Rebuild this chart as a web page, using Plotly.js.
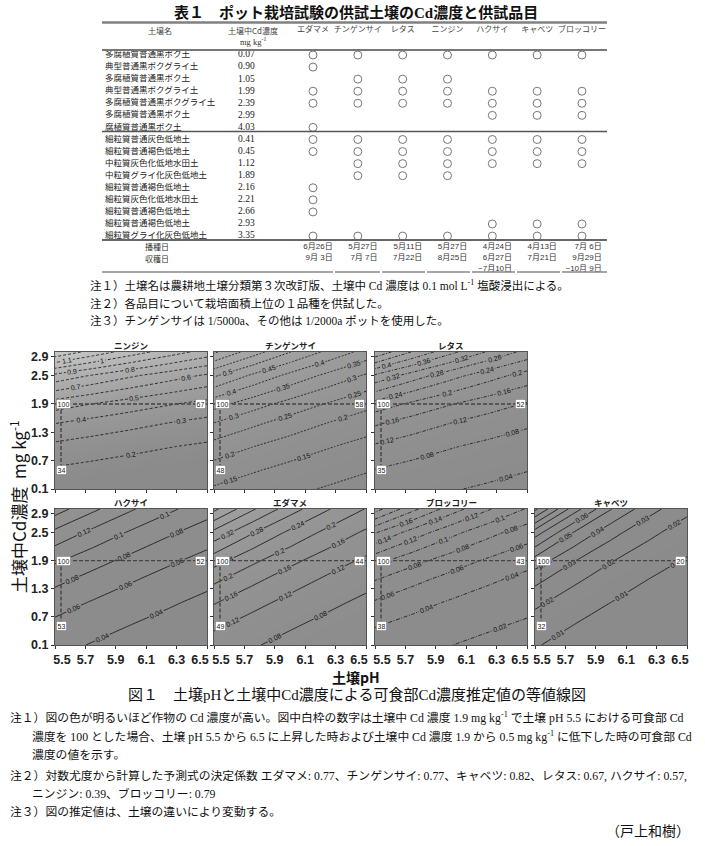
<!DOCTYPE html>
<html>
<head>
<meta charset="utf-8">
<script src="https://cdn.plot.ly/plotly-3.0.1.min.js"></script>
<style>html,body{margin:0;padding:0;background:#fff}#chart{width:705px;height:846px}</style>
</head>
<body>
<div id="chart"></div>
<script>
// ================= DATA =================
// --- Table 1 ---
const crops = ['エダマメ','チンゲンサイ','レタス','ニンジン','ハクサイ','キャベツ','ブロッコリー'];
const soilNames = ['多腐植質普通黒ボク土','典型普通黒ボクグライ土','多腐植質普通黒ボク土','典型普通黒ボクグライ土','多腐植質普通黒ボクグライ土','多腐植質普通黒ボク土','腐植質普通黒ボク土','細粒質普通灰色低地土','細粒質普通褐色低地土','中粒質灰色化低地水田土','中粒質グライ化灰色低地土','細粒質普通褐色低地土','細粒質灰色化低地水田土','細粒質普通褐色低地土','細粒質普通褐色低地土','細粒質グライ化灰色低地土'];
const soilCdValues = ['0.07','0.90','1.05','1.99','2.39','2.99','4.03','0.41','0.45','1.12','1.89','2.16','2.21','2.66','2.93','3.35'];
// 1 = tested (○), columns follow `crops`
const tested = [
  [1,1,1,1,1,1,1],
  [1,0,0,0,0,0,0],
  [0,1,1,1,0,0,0],
  [1,1,1,1,1,1,1],
  [1,1,1,1,1,1,1],
  [0,0,0,0,1,1,1],
  [1,0,0,0,0,0,0],
  [1,1,1,1,1,1,1],
  [1,1,1,1,1,1,1],
  [0,1,1,1,1,1,1],
  [0,1,1,1,0,0,0],
  [1,0,0,0,0,0,0],
  [1,0,0,0,0,0,0],
  [1,0,0,0,0,0,0],
  [0,0,0,0,1,1,1],
  [1,1,1,1,1,1,1]
];
const sowDates = ['6月26日','5月27日','5月11日','5月27日','4月24日','4月13日','7月 6日'];
const harvestDates = ['9月 3日','7月 7日','7月22日','8月25日','6月27日','7月21日','9月29日'];
const harvestEnd = ['','','','','~7月10日','','~10月 9日'];

// --- Figure 1: estimated edible-part Cd (read from the contour maps) ---
const soilPH = [5.5, 5.75, 6.0, 6.25, 6.5];
const soilCd = [0.1, 0.5, 1.0, 1.5, 1.9, 2.5, 3.0];
const zNinjin = [
  [0.1375,0.1244,0.1126,0.1018,0.0921],
  [0.1870,0.1692,0.1531,0.1385,0.1253],
  [0.2750,0.2488,0.2251,0.2036,0.1843],
  [0.4043,0.3658,0.3310,0.2994,0.2709],
  [0.5500,0.4976,0.4502,0.4073,0.3685],
  [0.8729,0.7897,0.7146,0.6464,0.5848],
  [1.2832,1.1609,1.0504,0.9502,0.8597]];
const zChingensai = [
  [0.1441,0.1258,0.1097,0.0958,0.0836],
  [0.1777,0.1551,0.1353,0.1181,0.1031],
  [0.2309,0.2015,0.1759,0.1535,0.1339],
  [0.3000,0.2618,0.2285,0.1994,0.1740],
  [0.3700,0.3229,0.2818,0.2459,0.2146],
  [0.5067,0.4422,0.3859,0.3368,0.2939],
  [0.6585,0.5747,0.5015,0.4377,0.3819]];
const zLettuce = [
  [0.0583,0.0495,0.0421,0.0357,0.0303],
  [0.0787,0.0669,0.0568,0.0482,0.0409],
  [0.1146,0.0973,0.0826,0.0702,0.0596],
  [0.1667,0.1415,0.1202,0.1021,0.0867],
  [0.2250,0.1911,0.1622,0.1378,0.1170],
  [0.3529,0.2997,0.2545,0.2161,0.1835],
  [0.5134,0.4360,0.3702,0.3144,0.2670]];
const zHakusai = [
  [0.0456,0.0387,0.0329,0.0279,0.0237],
  [0.0546,0.0464,0.0394,0.0335,0.0284],
  [0.0685,0.0582,0.0494,0.0420,0.0356],
  [0.0859,0.0730,0.0620,0.0526,0.0447],
  [0.1030,0.0875,0.0743,0.0631,0.0536],
  [0.1352,0.1148,0.0975,0.0828,0.0703],
  [0.1695,0.1440,0.1223,0.1038,0.0882]];
const zEdamame = [
  [0.1028,0.0837,0.0682,0.0555,0.0452],
  [0.1260,0.1026,0.0836,0.0681,0.0554],
  [0.1626,0.1324,0.1079,0.0878,0.0715],
  [0.2097,0.1708,0.1391,0.1133,0.0923],
  [0.2570,0.2093,0.1705,0.1388,0.1131],
  [0.3488,0.2841,0.2314,0.1884,0.1535],
  [0.4499,0.3664,0.2984,0.2430,0.1980]];
const zBroccoli = [
  [0.0309,0.0250,0.0202,0.0164,0.0133],
  [0.0407,0.0329,0.0267,0.0216,0.0175],
  [0.0575,0.0465,0.0377,0.0305,0.0247],
  [0.0812,0.0657,0.0532,0.0431,0.0349],
  [0.1070,0.0866,0.0702,0.0568,0.0460],
  [0.1620,0.1312,0.1062,0.0860,0.0697],
  [0.2288,0.1853,0.1500,0.1215,0.0984]];
const zCabbage = [
  [0.0106,0.0071,0.0048,0.0032,0.0021],
  [0.0147,0.0098,0.0066,0.0044,0.0029],
  [0.0221,0.0148,0.0099,0.0066,0.0044],
  [0.0332,0.0222,0.0149,0.0099,0.0066],
  [0.0460,0.0308,0.0206,0.0138,0.0092],
  [0.0750,0.0501,0.0335,0.0224,0.0150],
  [0.1126,0.0753,0.0504,0.0337,0.0225]];

const panelNames = ['ニンジン','チンゲンサイ','レタス','ハクサイ','エダマメ','ブロッコリー','キャベツ'];
const panelZ = [zNinjin, zChingensai, zLettuce, zHakusai, zEdamame, zBroccoli, zCabbage];
const contourStart = [0.2, 0.1, 0.04, 0.04, 0.04, 0.02, 0.01];
const contourStep  = [0.1, 0.05, 0.04, 0.02, 0.04, 0.02, 0.01];
const ratioHighPH = [67, 58, 52, 52, 44, 43, 20];   // value at pH 6.5 (Cd 1.9)
const ratioLowCd  = [34, 48, 35, 53, 49, 38, 32];   // value at Cd 0.5 (pH 5.5)
const basePH = 5.5, highPH = 6.5, baseCd = 1.9, lowCd = 0.5;
const xTicks = [5.5, 5.7, 5.9, 6.1, 6.3, 6.5];
const xTickText = ['5.5', '5.7', '5.9', '6.1', '6.3', '6.5'];
const yTicks = [0.1, 0.7, 1.3, 1.9, 2.5, 2.9];

// ================= LAYOUT HELPERS =================
const W = 705, H = 846;
const JP = "'Noto Sans CJK JP', sans-serif";
const MIX = "'Liberation Serif', 'Noto Sans CJK JP', serif";
const NUM = "'Liberation Sans Narrow', 'Liberation Sans', sans-serif";
const colPx = [[55,207],[214,366],[375,527],[535,687]];
const rowPx = [[352,489],[509,645]];
const place = [[0,0],[0,1],[0,2],[1,0],[1,1],[1,2],[1,3]];
const lineDash = ['3px,2px','2px,1.5px','3px,1.5px,1px,1.5px','solid','solid','4px,1.5px,1px,1.5px','solid'];
const fx = p => p / W, fy = p => 1 - p / H;
const FS = '\u2007';   // figure space: nudges the end labels inwards like the original

function pa(px, py, text, font, xanchor, extra) {
  return Object.assign({xref:'paper', yref:'paper', x:fx(px), y:fy(py), text:text,
    showarrow:false, xanchor:xanchor || 'center', yanchor:'middle', font:font}, extra || {});
}
function hRule(x0, x1, y, w, c) {
  return {type:'line', xref:'paper', yref:'paper', x0:fx(x0), x1:fx(x1), y0:fy(y), y1:fy(y),
          line:{width:w, color:c}};
}

const traces = [];
const layout = {
  width: W, height: H, margin:{l:0,r:0,t:0,b:0}, autosize:false,
  paper_bgcolor:'#fff', plot_bgcolor:'rgba(0,0,0,0)', showlegend:false, hovermode:false,
  annotations: [], shapes: []
};

// ================= CONTOUR PANELS =================
panelNames.forEach((name, i) => {
  const k = i + 1, sfx = k === 1 ? '' : String(k);
  const xa = 'x' + sfx, ya = 'y' + sfx;
  const [r, c] = place[i];
  const [x0, x1] = colPx[c], [y0, y1] = rowPx[r];
  traces.push({
    type:'contour', x: soilPH, y: soilCd, z: panelZ[i], xaxis: xa, yaxis: ya,
    colorscale: [[0,'#8b8b8b'],[1,'#f0f0f0']], showscale:false, hoverinfo:'skip',
    contours: {coloring:'heatmap', start: contourStart[i], end: 2, size: contourStep[i],
      showlabels:true, labelfont:{size:7, color:'#111', family:"'Liberation Sans', sans-serif"}},
    line: {color:'#111', width:0.8, dash: lineDash[i], smoothing:0}
  });
  // reference guide (pH 5.5 -> 6.5 at Cd 1.9)
  traces.push({type:'scatter', mode:'lines', x:[basePH, highPH], y:[baseCd, baseCd],
    xaxis: xa, yaxis: ya, line:{color:'#444', width:1.4, dash:'4px,2px'}, hoverinfo:'skip', cliponaxis:true});
  layout.shapes.push({type:'line', xref: xa, yref: ya, xsizemode:'pixel', xanchor: basePH,
    x0: 6, x1: 6, y0: baseCd, y1: lowCd, line:{color:'#444', width:1.4, dash:'4px,2px'}});
  const box = {xref: xa, yref: ya, showarrow:false, bgcolor:'#fff', bordercolor:'#777',
    borderwidth:0.6, borderpad:1, font:{size:7, color:'#222', family:"'Liberation Sans', sans-serif"}, yanchor:'middle'};
  layout.annotations.push(Object.assign({}, box, {x: basePH, y: baseCd, text: '100', xanchor:'left', xshift:1}));
  layout.annotations.push(Object.assign({}, box, {x: highPH, y: baseCd, text: String(ratioHighPH[i]), xanchor:'right', xshift:-1}));
  layout.annotations.push(Object.assign({}, box, {x: basePH, y: lowCd, text: String(ratioLowCd[i]), xanchor:'left', xshift:1}));
  // panel title
  layout.annotations.push(pa((x0 + x1) / 2, y0 - 7, name, {size:8.5, color:'#222', family:JP, weight:'bold'}));
  const tickfont = {size:12.5, color:'#222', family:NUM, weight:'bold'};
  const tt = xTickText.map((t, j) => j === 0 ? FS + FS + t : (j === xTickText.length - 1 ? t + FS + FS : t));
  layout['xaxis' + sfx] = {domain:[fx(x0), fx(x1)], range:[basePH, highPH], anchor: ya,
    tickvals: xTicks, ticktext: tt, ticks:'outside', ticklen:3, tickcolor:'#333', showline:true, mirror:true,
    linecolor:'#555', linewidth:1, showgrid:false, zeroline:false, showticklabels: r === 1,
    tickfont: tickfont, fixedrange:true};
  layout['yaxis' + sfx] = {domain:[fy(y1), fy(y0)], range:[0.1, 3.0], anchor: xa,
    tickvals: yTicks, ticks:'outside', ticklen:3, tickcolor:'#333', showline:true, mirror:true,
    linecolor:'#555', linewidth:1, showgrid:false, zeroline:false, showticklabels: c === 0,
    tickfont: tickfont, fixedrange:true};
});

// ================= TABLE (own invisible axes) =================
// crop column j sits at 313 + 44.83*j px ; table row i at 55 + 12.07*i px
const colUnit = 44.83, col0 = 313, rowUnit = 12.07, row0 = 55;
layout.xaxis8 = {domain:[0,1], range:[(0 - col0)/colUnit, (W - col0)/colUnit], visible:false, fixedrange:true};
layout.yaxis8 = {domain:[0,1], range:[(H - row0)/rowUnit, (0 - row0)/rowUnit], visible:false, fixedrange:true};
const toCol = p => (p - col0) / colUnit, toRow = p => (p - row0) / rowUnit;
const rowIdx = soilNames.map((_, i) => i);
const colIdx = crops.map((_, j) => j);

traces.push({type:'scatter', mode:'text', xaxis:'x8', yaxis:'y8', x: rowIdx.map(() => toCol(105)), y: rowIdx,
  text: soilNames, textposition:'middle right', cliponaxis:false, hoverinfo:'skip',
  textfont:{size:8.5, color:'#222', family:JP}});
traces.push({type:'scatter', mode:'text', xaxis:'x8', yaxis:'y8', x: rowIdx.map(() => toCol(238)), y: rowIdx,
  text: soilCdValues, textposition:'middle right', cliponaxis:false, hoverinfo:'skip',
  textfont:{size:9.5, color:'#222', family:"'Liberation Serif', serif"}});
const cx = [], cy = [];
tested.forEach((row, i) => row.forEach((v, j) => { if (v) { cx.push(j); cy.push(i); } }));
traces.push({type:'scatter', mode:'markers', xaxis:'x8', yaxis:'y8', x: cx, y: cy, cliponaxis:false,
  hoverinfo:'skip', marker:{symbol:'circle-open', size:8, line:{width:1, color:'#777'}, color:'#777'}});
traces.push({type:'scatter', mode:'text', xaxis:'x8', yaxis:'y8', x: colIdx, y: colIdx.map(() => toRow(30)),
  text: crops, textposition:'middle center', cliponaxis:false, hoverinfo:'skip',
  textfont:{size:8, color:'#444', family:JP}});
const dateFont = {size:8, color:'#333', family:"'Liberation Sans', 'Noto Sans CJK JP', sans-serif"};
[[sowDates, 247], [harvestDates, 258], [harvestEnd, 268.5]].forEach(([arr, py]) => {
  const js = colIdx.filter(j => arr[j] !== '');
  traces.push({type:'scatter', mode:'text', xaxis:'x8', yaxis:'y8', x: js.map(j => j + 0.44),
    y: js.map(() => toRow(py)), text: js.map(j => arr[j]), textposition:'middle left', cliponaxis:false,
    hoverinfo:'skip', textfont: dateFont});
});

// table title, headers, rules
const ann = layout.annotations;
ann.push(pa(356, 12, '表１　ポット栽培試験の供試土壌のCd濃度と供試品目', {size:15, color:'#111', family:MIX, weight:'bold'}));
ann.push(pa(160, 30, '土壌名', {size:8, color:'#444', family:JP}));
ann.push(pa(253, 30, '土壌中Cd濃度', {size:8, color:'#444', family:JP}));
ann.push(pa(253, 42, 'mg kg<sup>-1</sup>', {size:8.5, color:'#333', family:"'Liberation Serif', serif"}));
ann.push(pa(157, 247, '播種日', {size:8, color:'#333', family:JP}));
ann.push(pa(157, 258, '収穫日', {size:8, color:'#333', family:JP}));
const sh = layout.shapes;
sh.push(hRule(102, 607, 22.5, 2.5, '#808080'));
sh.push(hRule(102, 607, 50, 2, '#777'));
sh.push(hRule(102, 607, 131.5, 1.3, '#555'));
sh.push(hRule(102, 607, 240, 2, '#666'));
[[102,333],[335,380],[382,425],[427,470],[472,515],[517,560],[562,607]].forEach(([a,b]) => sh.push(hRule(a, b, 272, 1.5, '#888')));

// table notes
const tNoteFont = {size:11.5, color:'#111', family:MIX};
ann.push(pa(88, 285, '注１）土壌名は農耕地土壌分類第３次改訂版、土壌中 Cd 濃度は 0.1 mol L<sup>-1</sup> 塩酸浸出による。', tNoteFont, 'left'));
ann.push(pa(88, 303, '注２）各品目について栽培面積上位の１品種を供試した。', tNoteFont, 'left'));
ann.push(pa(88, 321, '注３）チンゲンサイは 1/5000a、その他は 1/2000a ポットを使用した。', tNoteFont, 'left'));

// figure titles
ann.push(pa(18, 507, '土壌中Cd濃度  mg kg<sup>-1</sup>', {size:17, color:'#111', family:JP}, 'center', {textangle:-90}));
ann.push(pa(356, 677, '土壌pH', {size:14, color:'#111', family:JP, weight:'bold'}));
ann.push(pa(357, 694, '図１　土壌pHと土壌中Cd濃度による可食部Cd濃度推定値の等値線図', {size:15, color:'#111', family:MIX}));

// figure notes
const noteFont = {size:11.8, color:'#111', family:MIX};
ann.push(pa(8, 717, '注１）図の色が明るいほど作物の Cd 濃度が高い。図中白枠の数字は土壌中 Cd 濃度 1.9 mg kg<sup>-1</sup> で土壌 pH 5.5 における可食部 Cd', noteFont, 'left'));
ann.push(pa(30, 736, '濃度を 100 とした場合、土壌 pH 5.5 から 6.5 に上昇した時および土壌中 Cd 濃度 1.9 から 0.5 mg kg<sup>-1</sup> に低下した時の可食部 Cd', noteFont, 'left'));
ann.push(pa(30, 755, '濃度の値を示す。', noteFont, 'left'));
ann.push(pa(8, 776, '注２）対数尤度から計算した予測式の決定係数 エダマメ: 0.77、チンゲンサイ: 0.77、キャベツ: 0.82、レタス: 0.67, ハクサイ: 0.57,', noteFont, 'left'));
ann.push(pa(30, 794, 'ニンジン: 0.39、ブロッコリー: 0.79', noteFont, 'left'));
ann.push(pa(8, 812, '注３）図の推定値は、土壌の違いにより変動する。', noteFont, 'left'));
ann.push(pa(692, 831, '（戸上和樹）', {size:14, color:'#111', family:MIX}, 'right'));

Plotly.newPlot('chart', traces, layout, {staticPlot:true, displayModeBar:false});
</script>
</body>
</html>
